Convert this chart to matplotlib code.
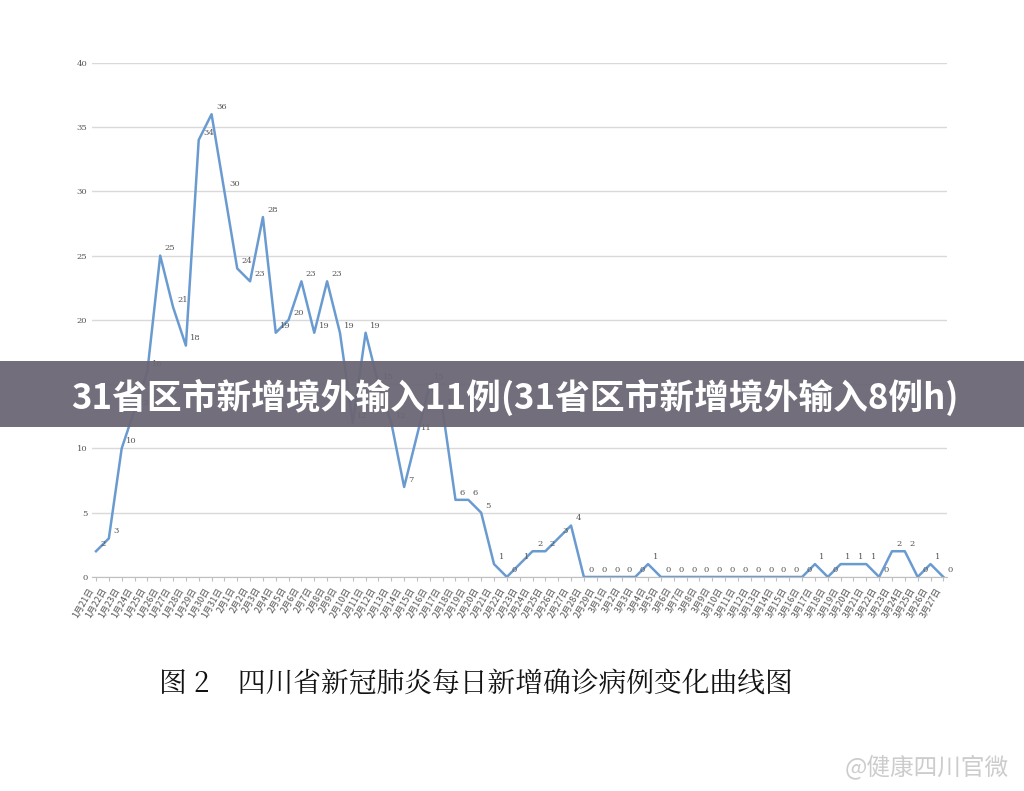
import matplotlib
matplotlib.use("Agg")
import matplotlib.pyplot as plt
from matplotlib.patches import Rectangle

plt.rcParams['font.family'] = ['Noto Sans CJK SC', 'DejaVu Sans']

dates = ([f"1月{d}日" for d in range(21, 32)] + [f"2月{d}日" for d in range(1, 30)]
         + [f"3月{d}日" for d in range(1, 28)])
values = [2, 3, 10, 13, 16, 25, 21, 18, 34, 36, 30, 24, 23, 28, 19, 20, 23, 19, 23, 19,
          12, 19, 15, 12, 7, 11, 15, 13, 6, 6, 5, 1, 0, 1, 2, 2, 3, 4, 0, 0,
          0, 0, 0, 1, 0, 0, 0, 0, 0, 0, 0, 0, 0, 0, 0, 0, 1, 0, 1, 1,
          1, 0, 2, 2, 0, 1, 0]
yticks = [0, 5, 10, 15, 20, 25, 30, 35, 40]

fig = plt.figure(figsize=(10.24, 7.91), dpi=100)
ax = fig.add_axes([0.09, 0.2706, 0.835, 0.65])
x = list(range(len(values)))
ax.plot(x, values, color='#6a9bd0', lw=1.8)
for xi, v in zip(x, values):
    ax.text(xi + 0.35, v + 0.4, str(v), fontsize=6, color='#555555', family='DejaVu Serif')
ax.set_ylim(0, 40)
ax.set_xlim(-0.3, len(values) - 0.7)
ax.set_yticks(yticks)
ax.set_yticklabels([str(t) for t in yticks], fontsize=6, color='#555555', family='DejaVu Serif')
ax.yaxis.grid(True, color='#d9d9d9', lw=1)
ax.set_axisbelow(True)
for s in ['top', 'right', 'left']:
    ax.spines[s].set_visible(False)
ax.spines['bottom'].set_color('#bfbfbf')
ax.tick_params(axis='y', length=0)
ax.set_xticks(x)
ax.set_xticklabels(dates, rotation=60, ha='right', fontsize=6.5, color='#555555')
ax.tick_params(axis='x', length=3, color='#bfbfbf')

fig.text(0.465, 0.135, "图 2    四川省新冠肺炎每日新增确诊病例变化曲线图", ha='center', va='center',
         fontsize=20, color='#111111', family=['Noto Serif CJK SC', 'Noto Sans CJK SC'])

fig.patches.append(Rectangle((0, 1 - 427/791), 1, 66/791, transform=fig.transFigure,
                             facecolor='#6b6674', alpha=0.95, zorder=10))
fig.text(0.503, 1 - 397/791, "31省区市新增境外输入11例(31省区市新增境外输入8例h)", ha='center', va='center',
         fontsize=25, color='white', fontweight='bold', zorder=11)
fig.text(0.985, 0.03, "@健康四川官微", ha='right', va='center', fontsize=17, color='#cccccc')

fig.savefig("out.png", dpi=100, facecolor='white')
